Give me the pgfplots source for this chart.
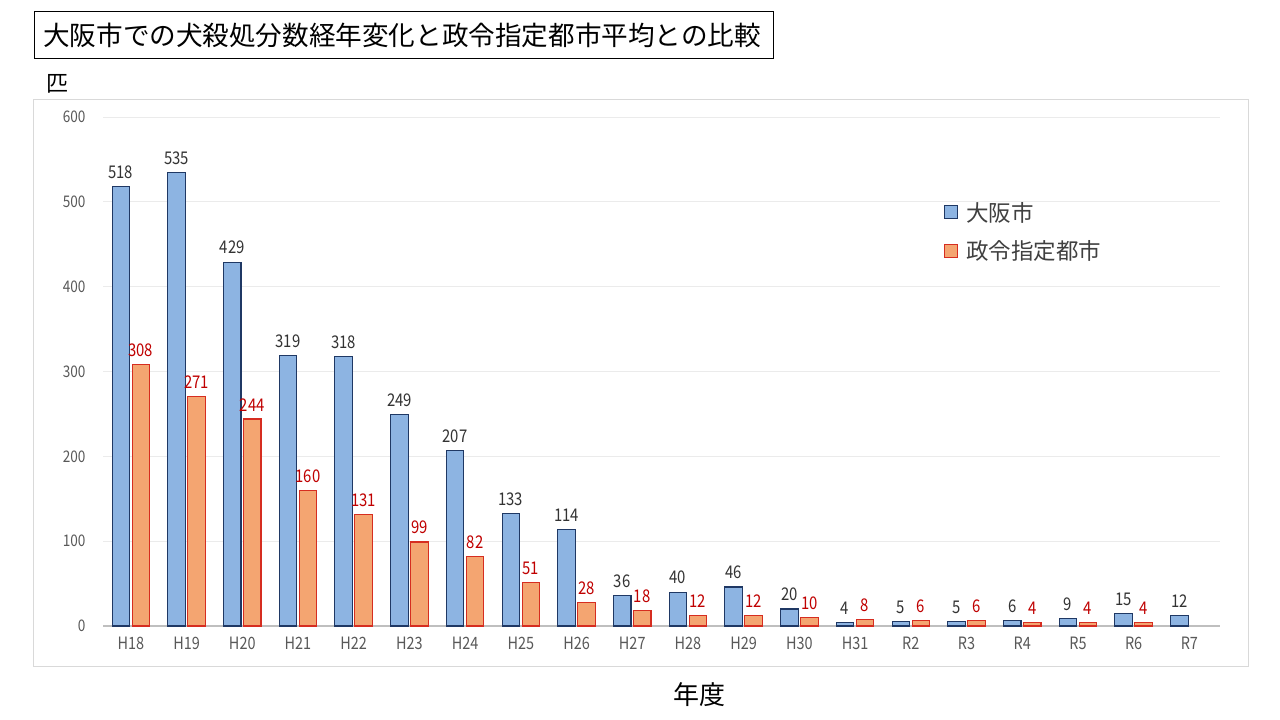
\documentclass[border=0pt]{standalone}
\usepackage{pgfplots}
\pgfplotsset{compat=1.18}
\usepackage{fontspec}
\setmainfont{Noto Sans CJK JP}
\newfontfamily\numfont[FakeStretch=0.85]{Noto Sans CJK JP}
\definecolor{barblue}{HTML}{8DB4E2}
\definecolor{edgeblue}{HTML}{1F3864}
\definecolor{barorange}{HTML}{F4A571}
\definecolor{edgered}{HTML}{D62D20}
\definecolor{labred}{HTML}{C00000}
\definecolor{ticktxt}{HTML}{595959}
\definecolor{gridc}{HTML}{EBEBEB}
\definecolor{axisc}{HTML}{BFBFBF}
\definecolor{framec}{HTML}{D9D9D9}
\begin{document}
\begin{tikzpicture}[x=1pt,y=1pt]
\path[use as bounding box,fill=white] (0,0) rectangle (1280,720);
% chart area border
\draw[framec,line width=1pt] (33,53) rectangle (1248,620);
% unit label
\node[fill=white,inner sep=2pt,font=\fontsize{22}{24}\selectfont] at (57,636) {匹};
% title box
\draw[black,line width=1pt] (34,661) rectangle (773,708);
\node[anchor=west,font=\fontsize{26.6}{30}\selectfont,inner sep=0] at (43,685) {大阪市での犬殺処分数経年変化と政令指定都市平均との比較};
\begin{axis}[
  at={(103pt,94pt)}, anchor=south west,
  scale only axis, width=1117pt, height=509pt,
  xmin=-0.5, xmax=19.55, ymin=0, ymax=600,
  ytick={0,100,...,600},
  xtick={0,...,19},
  xticklabels={H18,H19,H20,H21,H22,H23,H24,H25,H26,H27,H28,H29,H30,H31,R2,R3,R4,R5,R6,R7},
  major tick length=0pt,
  axis x line*=bottom, axis y line*=left,
  axis line style={-},
  x axis line style={draw=axisc,line width=2pt},
  y axis line style={draw=none},
  ymajorgrids, major grid style={draw=gridc,line width=0.8pt},
  /pgf/number format/assume math mode=true,
  yticklabel style={font=\numfont\fontsize{16}{18}\selectfont, text=ticktxt, xshift=-14pt},
  xticklabel style={font=\numfont\fontsize{17}{19}\selectfont, text=ticktxt, yshift=-8pt},
  ybar, bar width=17.5pt,
  clip=false,
  nodes near coords,
  legend style={at={(0.753,0.837)}, anchor=north west, draw=none, fill=none,
    font=\fontsize{22.5}{24}\selectfont, text=black!75,
    row sep=14pt, inner sep=0pt, cells={anchor=west}},
  legend image code/.code={\draw[#1,line width=1pt,bar shift=0pt] (0pt,-6.5pt) rectangle (13pt,6.5pt);},
]
\addplot[fill=barblue, draw=edgeblue, line width=1.1pt, bar shift=-10pt,
  every node near coord/.append style={font=\numfont\fontsize{17.5}{19}\selectfont, text=black!80, yshift=4pt}]
  coordinates {(0,518) (1,535) (2,429) (3,319) (4,318) (5,249) (6,207) (7,133) (8,114) (9,36)
  (10,40) (11,46) (12,20) (13,4) (14,5) (15,5) (16,6) (17,9) (18,15) (19,12)};
\addlegendentry{\hspace{6pt}大阪市}
\addplot[fill=barorange, draw=edgered, line width=1.1pt, bar shift=10pt,
  every node near coord/.append style={font=\numfont\fontsize{17.5}{19}\selectfont, text=labred, yshift=4pt}]
  coordinates {(0,308) (1,271) (2,244) (3,160) (4,131) (5,99) (6,82) (7,51) (8,28) (9,18)
  (10,12) (11,12) (12,10) (13,8) (14,6) (15,6) (16,4) (17,4) (18,4)};
\addlegendentry{\hspace{6pt}政令指定都市}
\end{axis}
\node[font=\fontsize{26}{28}\selectfont] at (699,25) {年度};
\end{tikzpicture}
\end{document}
